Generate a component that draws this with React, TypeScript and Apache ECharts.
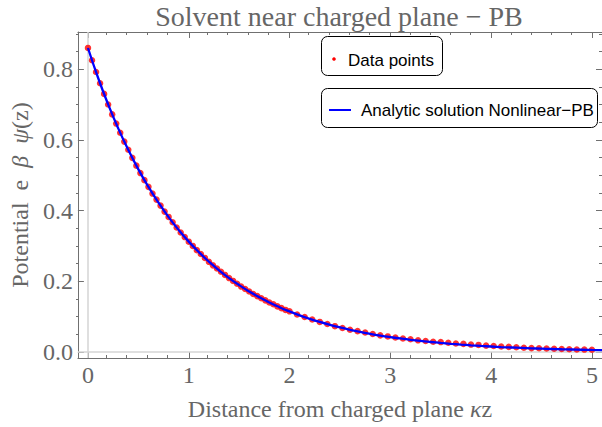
import React, { useEffect, useRef } from "react";
import * as echarts from "echarts";

// Data points (red dots)
const pointX = [
  0, 0.04, 0.08, 0.12, 0.16, 0.2, 0.24, 0.28, 0.32, 0.36, 0.4, 0.44, 0.48, 0.52, 0.56, 0.6, 0.64, 0.68, 0.72, 0.76,
  0.8, 0.84, 0.88, 0.92, 0.96, 1.0, 1.04, 1.08, 1.12, 1.16, 1.2, 1.24, 1.28, 1.32, 1.36, 1.4, 1.44, 1.48, 1.52, 1.56,
  1.6, 1.64, 1.68, 1.72, 1.76, 1.8, 1.84, 1.88, 1.92, 1.96, 2.0,
  2.075, 2.15, 2.225, 2.3, 2.375, 2.45, 2.525, 2.6, 2.675, 2.75, 2.825, 2.9, 2.975, 3.05, 3.125, 3.2, 3.275, 3.35,
  3.425, 3.5, 3.575, 3.65, 3.725, 3.8, 3.875, 3.95, 4.025, 4.1, 4.175, 4.25, 4.325, 4.4, 4.475, 4.55, 4.625, 4.7,
  4.775, 4.85, 4.925, 5.0,
];
const pointY = [
  0.86, 0.825, 0.792, 0.76, 0.73, 0.7, 0.672, 0.646, 0.62, 0.595, 0.572, 0.549, 0.527, 0.506, 0.486, 0.467, 0.448,
  0.431, 0.414, 0.397, 0.382, 0.367, 0.352, 0.338, 0.325, 0.312, 0.3, 0.288, 0.277, 0.266, 0.255, 0.245, 0.236,
  0.227, 0.218, 0.209, 0.201, 0.193, 0.185, 0.178, 0.171, 0.164, 0.158, 0.152, 0.146, 0.14, 0.135, 0.129, 0.124,
  0.119, 0.115,
  0.106, 0.099, 0.092, 0.085, 0.079, 0.073, 0.068, 0.063, 0.059, 0.055, 0.051, 0.047, 0.044, 0.041, 0.038, 0.036,
  0.033, 0.031, 0.029, 0.028, 0.026, 0.024, 0.023, 0.021, 0.02, 0.018, 0.017, 0.0155, 0.0145, 0.0135, 0.012, 0.011,
  0.0105, 0.0098, 0.009, 0.0085, 0.0078, 0.0072, 0.0068, 0.0063,
];

// Analytic solution (blue line)
const lineX = [
  0, 0.1, 0.2, 0.3, 0.4, 0.5, 0.6, 0.7, 0.8, 0.9, 1.0, 1.1, 1.2, 1.3, 1.4, 1.5, 1.6, 1.7, 1.8, 1.9, 2.0, 2.1, 2.2,
  2.3, 2.4, 2.5, 2.6, 2.7, 2.8, 2.9, 3.0, 3.1, 3.2, 3.3, 3.4, 3.5, 3.6, 3.7, 3.8, 3.9, 4.0, 4.1, 4.2, 4.3, 4.4, 4.5,
  4.6, 4.7, 4.8, 4.9, 5.0, 5.1,
];
const lineY = [
  0.8598, 0.7756, 0.7003, 0.6325, 0.5715, 0.5164, 0.4668, 0.4221, 0.3816, 0.3451, 0.3122, 0.2824, 0.2554, 0.231,
  0.209, 0.1891, 0.1711, 0.1548, 0.14, 0.1267, 0.1147, 0.1037, 0.0939, 0.0849, 0.0768, 0.0695, 0.0629, 0.0569,
  0.0515, 0.0466, 0.0422, 0.0382, 0.0345, 0.0312, 0.0283, 0.0256, 0.0231, 0.0209, 0.0189, 0.0171, 0.0155, 0.014,
  0.0127, 0.0115, 0.0104, 0.0094, 0.0085, 0.0077, 0.007, 0.0063, 0.0057, 0.0052,
];

// Ticks
const xMajor = [0, 1, 2, 3, 4, 5];
const xMinor = [0.2, 0.4, 0.6, 0.8, 1.2, 1.4, 1.6, 1.8, 2.2, 2.4, 2.6, 2.8, 3.2, 3.4, 3.6, 3.8, 4.2, 4.4, 4.6, 4.8];
const yMajor = [0, 0.2, 0.4, 0.6, 0.8];
const yMinor = [0.05, 0.1, 0.15, 0.25, 0.3, 0.35, 0.45, 0.5, 0.55, 0.65, 0.7, 0.75, 0.85, 0.9];

const titleText = "Solvent near charged plane \u2212 PB";
const legendPoints = "Data points";
const legendLine = "Analytic solution Nonlinear\u2212PB";

const SERIF = '"Liberation Serif", "Times New Roman", serif';
const SANS = '"Liberation Sans", Arial, sans-serif';
const FRAME = "#707070";
const LABEL = "#666666";

const X_MIN = -0.1, X_MAX = 5.1, Y_MIN = -0.017, Y_MAX = 0.905;
const GRID = { left: 76, right: 0, top: 32, bottom: 69 };

export default function App() {
  const ref = useRef<HTMLDivElement>(null);
  useEffect(() => {
    if (!ref.current) return;
    const chart = echarts.init(ref.current, null, { renderer: "svg" });

    const xAx = (grid: number, pos: string, ticks: number[], len: number, line: boolean, labels: boolean) => ({
      gridIndex: grid,
      type: "value",
      position: pos,
      min: X_MIN,
      max: X_MAX,
      axisLine: { show: line, onZero: false, lineStyle: { color: FRAME, width: 1 } },
      axisTick: { show: true, inside: true, length: len, customValues: ticks, lineStyle: { color: FRAME, width: 1 } },
      axisLabel: labels
        ? { show: true, customValues: ticks, margin: 5, color: LABEL, fontFamily: SERIF, fontSize: 24, formatter: (v: number) => String(v) }
        : { show: false },
      splitLine: { show: false },
    });
    const yAx = (grid: number, pos: string, ticks: number[], len: number, line: boolean, labels: boolean) => ({
      gridIndex: grid,
      type: "value",
      position: pos,
      min: Y_MIN,
      max: Y_MAX,
      axisLine: { show: line, onZero: false, lineStyle: { color: FRAME, width: 1 } },
      axisTick: { show: true, inside: true, length: len, customValues: ticks, lineStyle: { color: FRAME, width: 1 } },
      axisLabel: labels
        ? { show: true, customValues: ticks, margin: 5, color: LABEL, fontFamily: SERIF, fontSize: 24, formatter: (v: number) => v.toFixed(1) }
        : { show: false },
      splitLine: { show: false },
    });

    const xMain: any = xAx(0, "bottom", xMajor, 6, true, true);
    xMain.name = "Distance from charged plane {i|\u03ba}z";
    xMain.nameLocation = "middle";
    xMain.nameGap = 39;
    xMain.nameTextStyle = {
      color: LABEL, fontFamily: SERIF, fontSize: 24,
      rich: { i: { fontStyle: "italic", fontFamily: SERIF, fontSize: 24, color: LABEL } },
    };
    const yMain: any = yAx(0, "left", yMajor, 6, true, true);
    yMain.name = "Potential  e  {i|\u03b2}  {i|\u03c8}(z)";
    yMain.nameLocation = "middle";
    yMain.nameGap = 44;
    yMain.nameTextStyle = {
      color: LABEL, fontFamily: SERIF, fontSize: 24,
      rich: { i: { fontStyle: "italic", fontFamily: SERIF, fontSize: 24, color: LABEL } },
    };

    chart.setOption({
      animation: false,
      backgroundColor: "#ffffff",
      grid: [
        { ...GRID },
        { ...GRID },
      ],
      xAxis: [
        xMain,
        xAx(0, "top", xMajor, 6, true, false),
        xAx(1, "bottom", xMinor, 3, false, false),
        xAx(1, "top", xMinor, 3, false, false),
      ],
      yAxis: [
        yMain,
        yAx(0, "right", yMajor, 6, true, false),
        yAx(1, "left", yMinor, 3, false, false),
        yAx(1, "right", yMinor, 3, false, false),
      ],
      series: [
        {
          type: "line",
          xAxisIndex: 0,
          yAxisIndex: 0,
          data: [],
          z: 1,
          markLine: {
            silent: true,
            z: 1,
            symbol: ["none", "none"],
            label: { show: false },
            lineStyle: { color: "#d4d4d4", width: 1.5, type: "solid" },
            data: [{ xAxis: 0 }, { yAxis: 0 }],
          },
        },
        {
          name: legendPoints,
          type: "scatter",
          xAxisIndex: 0,
          yAxisIndex: 0,
          symbol: "circle",
          symbolSize: 6.5,
          itemStyle: { color: "#ff0000" },
          data: pointX.map((x, i) => [x, pointY[i]]),
          z: 2,
        },
        {
          name: legendLine,
          type: "line",
          xAxisIndex: 0,
          yAxisIndex: 0,
          smooth: true,
          showSymbol: false,
          symbol: "none",
          lineStyle: { color: "#0000ff", width: 2.3 },
          data: lineX.map((x, i) => [x, lineY[i]]),
          z: 3,
        },
      ],
      graphic: [
        {
          type: "text",
          x: 339,
          y: 16,
          style: {
            text: titleText,
            fill: LABEL,
            font: `28px ${SERIF}`,
            textAlign: "center",
            textVerticalAlign: "middle",
          },
        },
        {
          type: "rect",
          shape: { x: 321.5, y: 36.5, width: 121, height: 39, r: 6 },
          style: { fill: "#ffffff", stroke: "#000000", lineWidth: 1 },
          z: 10,
        },
        {
          type: "circle",
          shape: { cx: 334, cy: 59, r: 1.8 },
          style: { fill: "#ff0000" },
          z: 11,
        },
        {
          type: "text",
          x: 348,
          y: 60,
          style: { text: legendPoints, fill: "#000000", font: `17px ${SANS}`, textVerticalAlign: "middle" },
          z: 11,
        },
        {
          type: "rect",
          shape: { x: 321.5, y: 88.5, width: 276, height: 39, r: 6 },
          style: { fill: "#ffffff", stroke: "#000000", lineWidth: 1 },
          z: 10,
        },
        {
          type: "line",
          shape: { x1: 329, y1: 110, x2: 351, y2: 110 },
          style: { stroke: "#0000ff", lineWidth: 2 },
          z: 11,
        },
        {
          type: "text",
          x: 361,
          y: 110,
          style: { text: legendLine, fill: "#000000", font: `17px ${SANS}`, textVerticalAlign: "middle" },
          z: 11,
        },
      ],
    } as any);
    return () => chart.dispose();
  }, []);
  return <div ref={ref} style={{ position: "absolute", left: 0, top: 0, width: 602, height: 427 }} />;
}
